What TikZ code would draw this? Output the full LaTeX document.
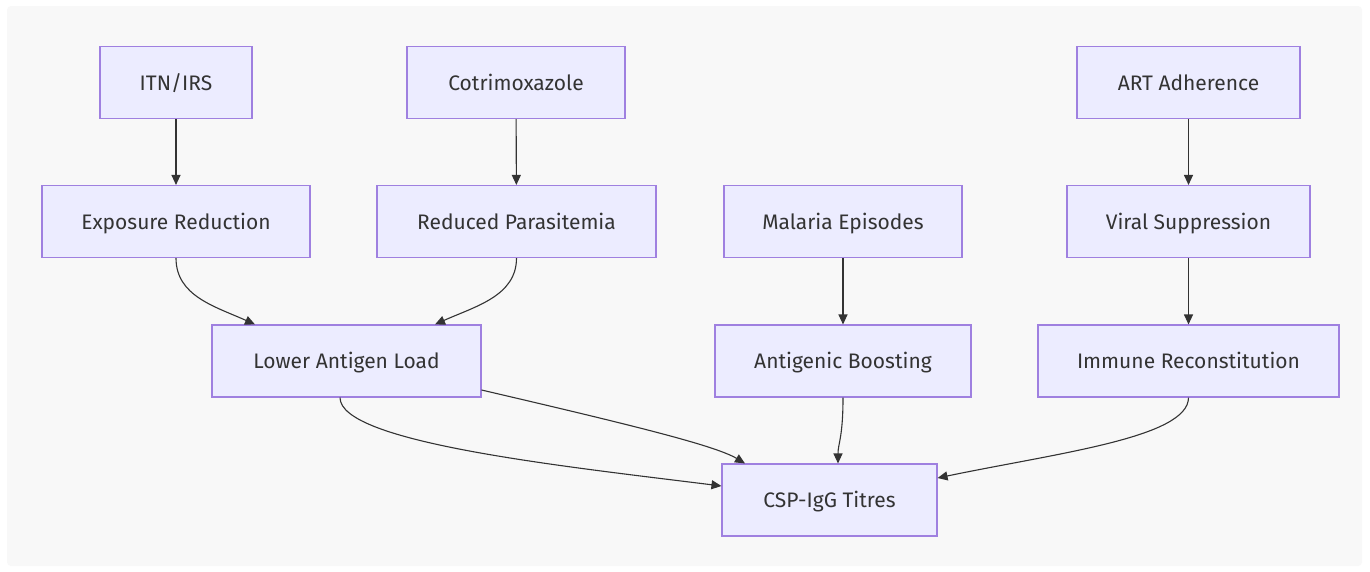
\documentclass[tikz,border=0pt]{standalone}
\usepackage{fontspec}
\setmainfont{Fira Sans}
\usetikzlibrary{arrows.meta}
\definecolor{bgc}{HTML}{F8F8F8}
\definecolor{boxfill}{HTML}{ECECFF}
\definecolor{boxdraw}{HTML}{9F80E0}
\definecolor{ink}{HTML}{333333}
\tikzset{
  box/.style={draw=boxdraw, fill=boxfill, line width=1.1pt, inner sep=0pt,
    minimum height=72pt, text=ink, text height=18pt, text depth=3pt,
    font=\fontsize{21}{25}\selectfont},
  link/.style={draw=ink, line width=1.1pt, -{Triangle[length=10pt,width=9pt]}}
}
\begin{document}
\begin{tikzpicture}[x=1pt,y=-1pt]
\useasboundingbox (0,0) rectangle (1370,571);
\fill[white] (0,0) rectangle (1370,571);
\fill[bgc, rounded corners=4pt] (7,6) rectangle (1362,566);
\node[box, minimum width=152pt] (itn) at (176,82.5) {ITN/IRS};
\node[box, minimum width=218pt] (cot) at (516,82.5) {Cotrimoxazole};
\node[box, minimum width=223pt] (art) at (1188.5,82.5) {ART Adherence};
\node[box, minimum width=268pt] (er) at (176,221.5) {Exposure Reduction};
\node[box, minimum width=279pt] (rp) at (516.5,221.5) {Reduced Parasitemia};
\node[box, minimum width=238pt] (me) at (843,221.5) {Malaria Episodes};
\node[box, minimum width=243pt] (vs) at (1188.5,221.5) {Viral Suppression};
\node[box, minimum width=269pt] (lal) at (346.5,361) {Lower Antigen Load};
\node[box, minimum width=256pt] (ab) at (843,361) {Antigenic Boosting};
\node[box, minimum width=301pt] (ir) at (1188.5,361) {Immune Reconstitution};
\node[box, minimum width=215pt] (csp) at (829.5,500) {CSP-IgG Titres};
\draw[link] (itn) -- (er);
\draw[link] (cot) -- (rp);
\draw[link] (me) -- (ab);
\draw[link] (art) -- (vs);
\draw[link] (vs) -- (ir);
\draw[link] (er.south) .. controls +(0,38) and +(-40,-18) .. ([xshift=-91.5pt]lal.north);
\draw[link] (rp.south) .. controls +(0,38) and +(40,-18) .. ([xshift=88.5pt]lal.north);
\draw[link] ([xshift=-6.5pt]lal.south) .. controls +(0,45) and +(-160,-20) .. ([yshift=14pt]csp.west);
\draw[link] ([yshift=-29pt]lal.east) .. controls +(150,35) and +(-30,-18) .. ([xshift=-84.5pt]csp.north);
\draw[link] (ab.south) .. controls +(0,40) and +(0,-20) .. ([xshift=8.5pt]csp.north);
\draw[link] (ir.south) .. controls +(0,40) and +(120,-25) .. ([yshift=22pt]csp.east);
\end{tikzpicture}
\end{document}
